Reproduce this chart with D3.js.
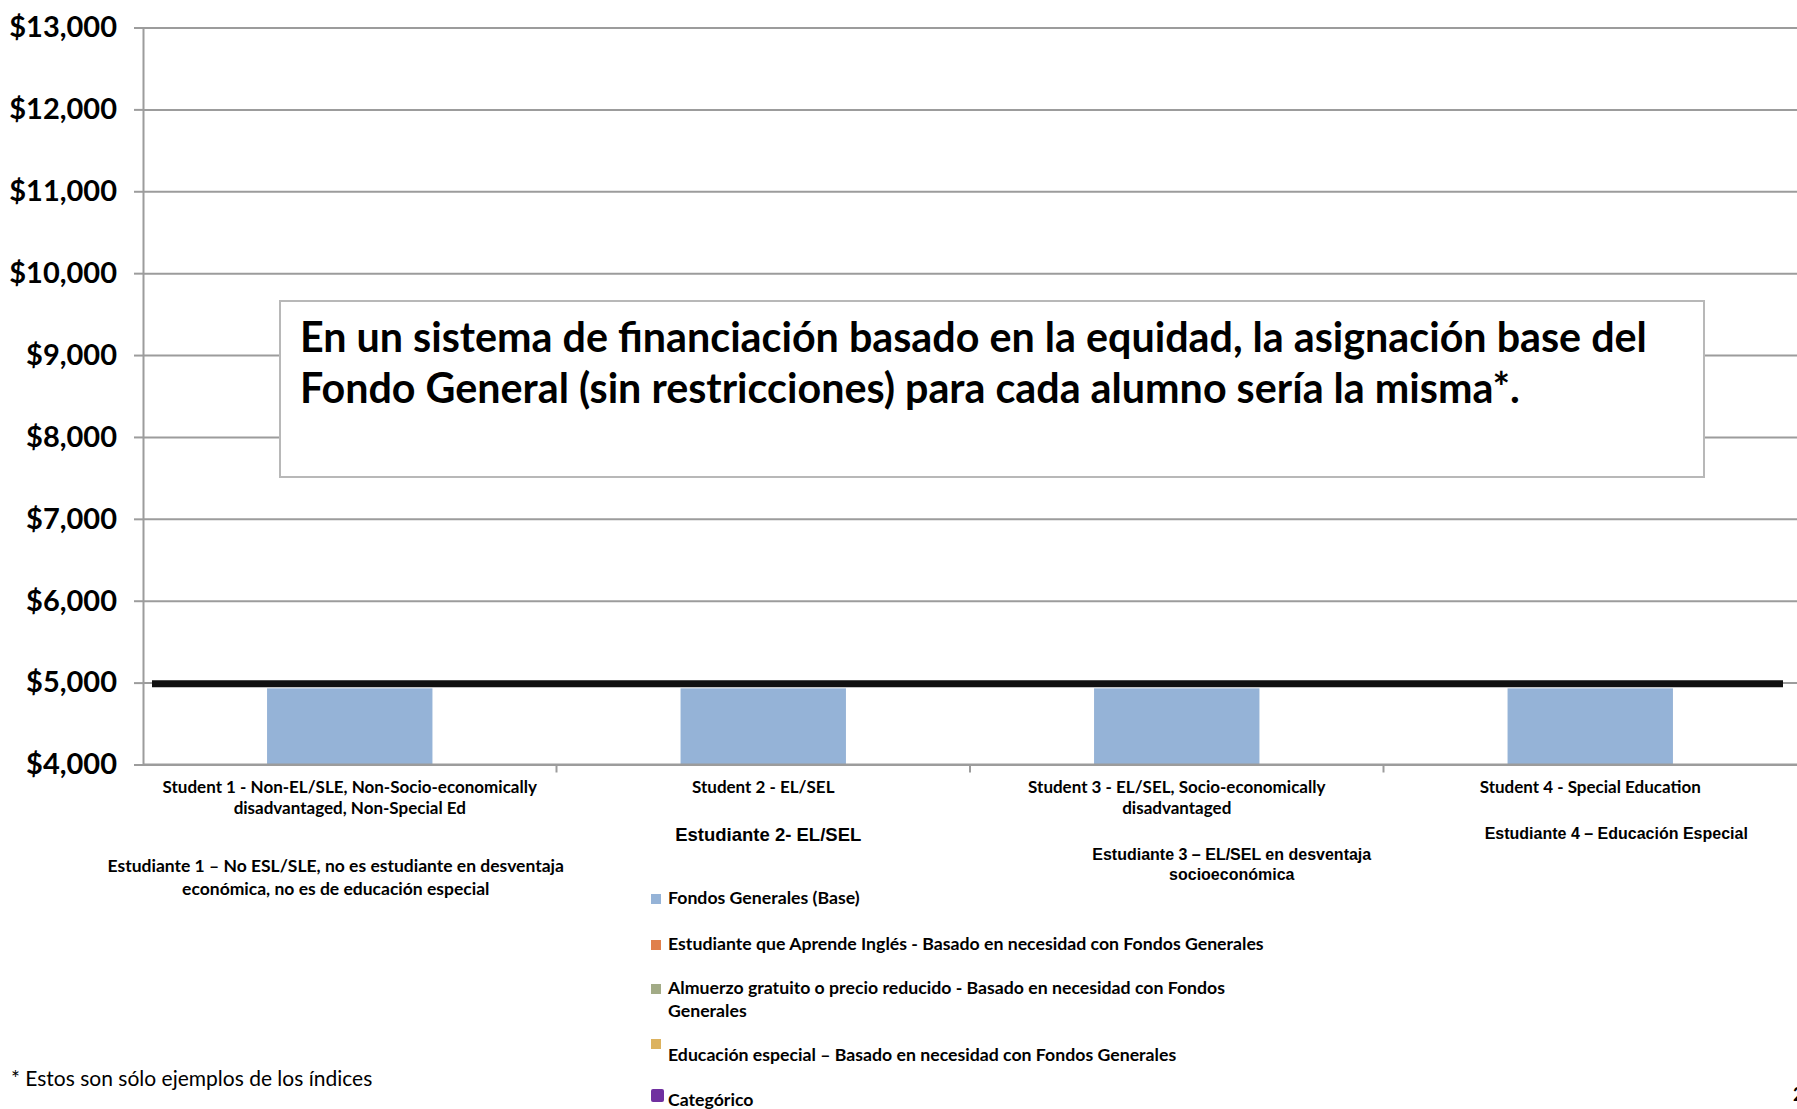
<!DOCTYPE html>
<html>
<head>
<meta charset="utf-8">
<script src="https://cdn.jsdelivr.net/npm/d3@7"></script>
<style>
  html, body { margin: 0; padding: 0; background: #fff; }
  svg { display: block; }
</style>
</head>
<body>
<div id="chart"></div>
<script>
// chart values
const categories = ["s1", "s2", "s3", "s4"];
const categoryLines = [
    ["Student 1 - Non-EL/SLE, Non-Socio-economically", "disadvantaged, Non-Special Ed"],
    ["Student 2 - EL/SEL"],
    ["Student 3 - EL/SEL, Socio-economically", "disadvantaged"],
    ["Student 4 - Special Education"]
];
const spanishLines = [
    ["Estudiante 1 – No ESL/SLE, no es estudiante en desventaja", "económica, no es de educación especial"],
    ["Estudiante 2- EL/SEL"],
    ["Estudiante 3 – EL/SEL en desventaja", "socioeconómica"],
    ["Estudiante 4 – Educación Especial"]
];
const baseFunding = [4930, 4930, 4930, 4930];
const equalLine = 4985;
const yTicks = [4000, 5000, 6000, 7000, 8000, 9000, 10000, 11000, 12000, 13000];
const legendLabels = [
    ["Fondos Generales (Base)"],
    ["Estudiante que Aprende Inglés - Basado en necesidad con Fondos Generales"],
    ["Almuerzo gratuito o precio reducido - Basado en necesidad con Fondos", "Generales"],
    ["Educación especial – Basado en necesidad con Fondos Generales"],
    ["Categórico"]
];
const legendColors = ["#95b3d7", "#e0804c", "#a2ab86", "#dcb25e", "#7030a0"];
const titleLines = [
    "En un sistema de financiación basado en la equidad, la asignación base del",
    "Fondo General (sin restricciones) para cada alumno sería la misma*."
];
const footnote = "* Estos son sólo ejemplos de los índices";

const W = 1797, H = 1109;
const margin = {top: 27.5, left: 143, right: 0, bottom: H - 764.5};
const geo = "Lato, 'Open Sans', sans-serif";
const arial = "'Liberation Sans', Arial, sans-serif";

let svg = d3.select("#chart").append("svg")
    .attr("width", W)
    .attr("height", H);

let x = d3.scaleBand()
    .domain(categories)
    .range([margin.left, W - margin.right])
    .paddingInner(0.6)
    .paddingOuter(0.3);

let y = d3.scaleLinear()
    .domain([4000, 13000])
    .range([H - margin.bottom, margin.top]);

// gridlines
let grid = svg.append("g")
    .attr("transform", "translate(" + margin.left + ",0)")
    .call(d3.axisLeft(y).tickValues(yTicks).tickSize(-(W - margin.left)).tickFormat(""));
grid.select(".domain").remove();
grid.selectAll("line").attr("stroke", "#9c9c9c").attr("stroke-width", 2);

// y axis with ticks + labels
let yAxis = svg.append("g")
    .attr("transform", "translate(" + margin.left + ",0)")
    .call(d3.axisLeft(y).tickValues(yTicks).tickSize(9).tickSizeOuter(0).tickPadding(17)
        .tickFormat(d3.format("$,.0f")));
yAxis.select(".domain").attr("stroke", "#9c9c9c").attr("stroke-width", 2);
yAxis.selectAll("line").attr("stroke", "#9c9c9c").attr("stroke-width", 2);
yAxis.selectAll("text")
    .attr("fill", "#000")
    .style("font-family", geo)
    .style("font-weight", "bold")
    .style("font-size", "29px");

// bars
svg.append("g").selectAll("rect")
    .data(baseFunding)
    .enter().append("rect")
    .attr("x", (d, i) => x(categories[i]))
    .attr("width", x.bandwidth())
    .attr("y", d => y(d))
    .attr("height", d => y(4000) - y(d))
    .attr("fill", "#95b3d7");

// x axis baseline and boundary ticks
let x0 = x.range()[0], step = x.step();
svg.append("line")
    .attr("x1", x0).attr("x2", x.range()[1])
    .attr("y1", y(4000)).attr("y2", y(4000))
    .attr("stroke", "#9c9c9c").attr("stroke-width", 2);
svg.append("g").selectAll("line")
    .data(d3.range(1, categories.length))
    .enter().append("line")
    .attr("x1", i => x0 + i * step).attr("x2", i => x0 + i * step)
    .attr("y1", y(4000)).attr("y2", y(4000) + 8)
    .attr("stroke", "#9c9c9c").attr("stroke-width", 2);

// black equal-funding line
svg.append("line")
    .attr("x1", x0 + 9).attr("x2", x.range()[1] - 14)
    .attr("y1", y(equalLine)).attr("y2", y(equalLine))
    .attr("stroke", "#111").attr("stroke-width", 7);

// english category labels
let catG = svg.append("g");
categoryLines.forEach((lines, i) => {
    let cx = x(categories[i]) + x.bandwidth() / 2;
    let t = catG.append("text")
        .attr("text-anchor", "middle")
        .style("font-family", geo)
        .style("font-weight", "bold")
        .style("font-size", "17px");
    lines.forEach((l, j) => {
        t.append("tspan").attr("x", cx).attr("y", y(4000) + 28 + j * 21).text(l);
    });
});

// spanish labels (placed as in the slide)
const spanishStyle = [
    {dx: -14, top: 872, font: geo, size: 17.5, lh: 23},
    {dx: 5, top: 841, font: arial, size: 18.5, lh: 22},
    {dx: 55, top: 860, font: arial, size: 16, lh: 20},
    {dx: 26, top: 839, font: arial, size: 16, lh: 20}
];
spanishLines.forEach((lines, i) => {
    let s = spanishStyle[i];
    let cx = x(categories[i]) + x.bandwidth() / 2 + s.dx;
    let t = svg.append("text")
        .attr("text-anchor", "middle")
        .style("font-family", s.font)
        .style("font-weight", "bold")
        .style("font-size", s.size + "px");
    lines.forEach((l, j) => {
        t.append("tspan").attr("x", cx).attr("y", s.top + j * s.lh).text(l);
    });
});

// legend
const legendX = 651, legendY = [904, 950, 994, 1061, 1106];
let leg = svg.append("g");
legendLabels.forEach((lines, i) => {
    let last = i === legendLabels.length - 1;
    let sqY = i === 3 ? legendY[i] - 22 : (last ? legendY[i] - 17 : legendY[i] - 10);
    leg.append("rect")
        .attr("x", legendX)
        .attr("y", sqY)
        .attr("width", last ? 13 : 10)
        .attr("height", last ? 13 : 10)
        .attr("rx", last ? 2 : 0)
        .attr("fill", legendColors[i]);
    let t = leg.append("text")
        .style("font-family", geo)
        .style("font-weight", "bold")
        .style("font-size", "17.7px");
    lines.forEach((l, j) => {
        t.append("tspan").attr("x", legendX + 17).attr("y", legendY[i] + j * 23).text(l);
    });
});

// title box
const box = {x: 280, y: 301, w: 1424, h: 176};
svg.append("rect")
    .attr("x", box.x).attr("y", box.y)
    .attr("width", box.w).attr("height", box.h)
    .attr("fill", "#fff")
    .attr("stroke", "#b8b8b8").attr("stroke-width", 2);
let title = svg.append("text")
    .style("font-family", geo)
    .style("font-weight", "bold")
    .style("font-size", "36px");
titleLines.forEach((l, j) => {
    title.append("tspan").attr("x", box.x + 20).attr("y", box.y + 51 + j * 51).text(l);
});
// fit first line to width in slide
let w0 = title.select("tspan").node().getComputedTextLength();
title.style("font-size", (36 * 1347 / w0) + "px");

// footnote and page number
svg.append("text")
    .attr("x", 11).attr("y", 1086)
    .style("font-family", geo)
    .style("font-size", "21px")
    .text(footnote);
svg.append("text")
    .attr("x", 1793).attr("y", 1101)
    .style("font-family", geo)
    .style("font-weight", "bold")
    .style("font-size", "18px")
    .text("2");
</script>
</body>
</html>
